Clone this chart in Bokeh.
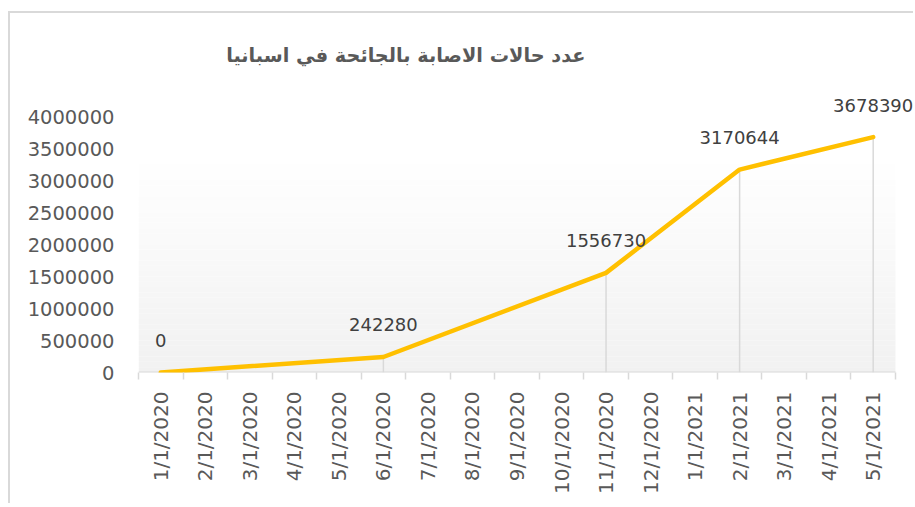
from bokeh.plotting import figure
from bokeh.models import (Range1d, FixedTicker, ColumnDataSource, LabelSet, Label,
                          NumeralTickFormatter)
from bokeh.embed import file_html
from bokeh.resources import INLINE
from bokeh.core.properties import value

# ---- data ----
months = ["1/1/2020", "2/1/2020", "3/1/2020", "4/1/2020", "5/1/2020", "6/1/2020",
          "7/1/2020", "8/1/2020", "9/1/2020", "10/1/2020", "11/1/2020", "12/1/2020",
          "1/1/2021", "2/1/2021", "3/1/2021", "4/1/2021", "5/1/2021"]
point_dates = ["1/1/2020", "6/1/2020", "11/1/2020", "2/1/2021", "5/1/2021"]
cases = [0, 242280, 1556730, 3170644, 3678390]
y_ticks = [0, 500000, 1000000, 1500000, 2000000, 2500000, 3000000, 3500000, 4000000]
title_text = "عدد حالات الاصابة بالجائحة في اسبانيا"

xs = [months.index(d) for d in point_dates]
src = ColumnDataSource(dict(x=xs, y=cases, y0=[0] * len(xs),
                            lbl=[str(c) for c in cases]))

n = len(months)
x_lo, x_hi = -0.5, n - 0.5
y_top = y_ticks[-1] * 1.375   # headroom so that labels and title fit in the frame
p = figure(width=905, height=492, output_backend="svg", toolbar_location=None,
           x_range=Range1d(x_lo, x_hi + 0.45), y_range=Range1d(0, y_top),
           min_border_left=128, min_border_right=0, min_border_top=7,
           min_border_bottom=133, margin=(11, 0, 0, 8),
           styles={"border-left": "2px solid #d9d9d9", "border-top": "2px solid #d9d9d9"})
p.outline_line_color = None
p.xgrid.visible = False
p.ygrid.visible = False
p.background_fill_color = "white"
p.border_fill_color = "white"

# gradient plot-area fill (white at top -> light grey at bottom)
g_top = 0.835 * y_ticks[-1]
steps = 40
for i in range(steps):
    b = g_top * (1 - (i + 1) / steps)
    tp = g_top * (1 - i / steps)
    c = int(round(255 - (255 - 241) * ((i + 0.5) / steps)))
    col = "#%02x%02x%02x" % (c, c, c)
    p.quad(left=x_lo, right=x_hi, bottom=b, top=tp, fill_color=col,
           line_color=None)

# category axis baseline (only across the plot area)
p.segment(x0=[x_lo], y0=[0], x1=[x_hi], y1=[0], line_color="#d9d9d9",
          line_width=2)

# drop lines
p.segment(x0="x", y0="y0", x1="x", y1="y", source=src, line_color="#d9d9d9",
          line_width=1.5)
# main line
p.line("x", "y", source=src, line_color="#FFC000", line_width=4.5,
       line_cap="round", line_join="round")

labels = LabelSet(x="x", y="y", text="lbl", source=src, y_offset=32,
                  text_align="center", text_baseline="middle",
                  text_font=value("DejaVu Sans"), text_font_size="18px",
                  text_color="#404040")
p.add_layout(labels)

title = Label(x=(n - 1) * 0.344, y=y_ticks[-1] * 1.238, text=title_text,
              text_align="center", text_baseline="middle",
              text_font="DejaVu Sans", text_font_style="bold",
              text_font_size="19.3px", text_color="#595959")
p.add_layout(title)

# x axis
xa = p.xaxis[0]
xa.ticker = FixedTicker(ticks=list(range(n)),
                        minor_ticks=[i - 0.5 for i in range(n + 1)])
xa.major_label_overrides = {i: m for i, m in enumerate(months)}
xa.major_label_orientation = 1.5707963
xa.major_tick_line_color = None
xa.major_tick_out = 0
xa.major_tick_in = 0
xa.minor_tick_line_color = "#d9d9d9"
xa.minor_tick_line_width = 1.5
xa.minor_tick_out = 7
xa.minor_tick_in = 0
xa.axis_line_color = None
xa.major_label_standoff = 12
xa.major_label_text_font = "DejaVu Sans"
xa.major_label_text_font_size = "20px"
xa.major_label_text_color = "#595959"

# y axis
ya = p.yaxis[0]
ya.ticker = FixedTicker(ticks=y_ticks)
ya.formatter = NumeralTickFormatter(format="0")
ya.axis_line_color = None
ya.major_tick_line_color = None
ya.minor_tick_line_color = None
ya.major_tick_out = 0
ya.major_tick_in = 0
ya.major_label_standoff = 24
ya.major_label_text_font = "DejaVu Sans"
ya.major_label_text_font_size = "19.5px"
ya.major_label_text_color = "#595959"

open("out.html", "w").write(file_html(p, INLINE))
